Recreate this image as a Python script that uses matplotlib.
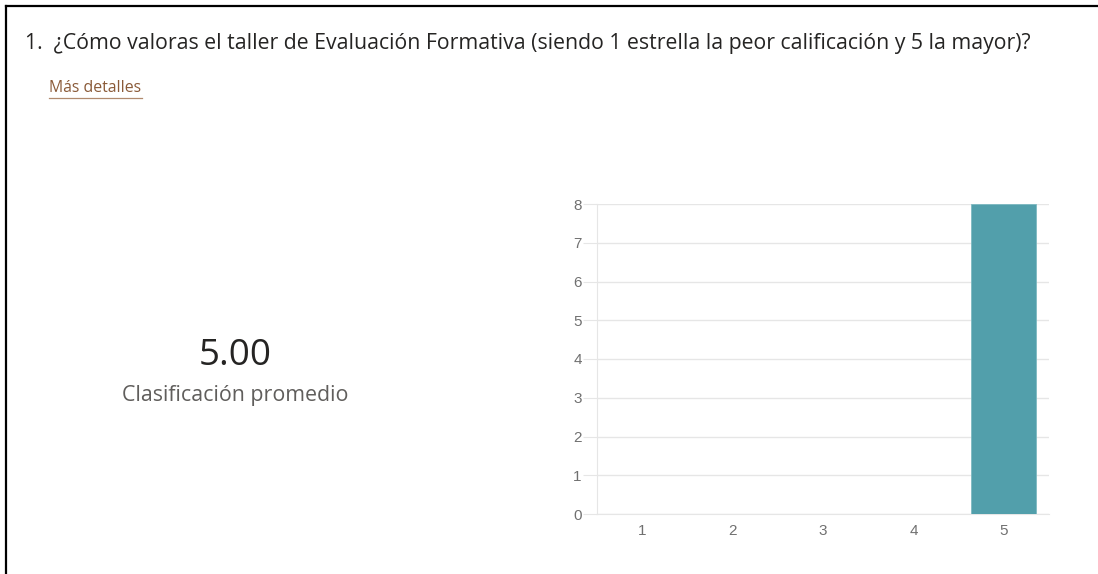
import matplotlib
matplotlib.use("Agg")
import matplotlib.pyplot as plt
from matplotlib.lines import Line2D

categories = ["1", "2", "3", "4", "5"]
counts = [0, 0, 0, 0, 8]
yticks = [0, 1, 2, 3, 4, 5, 6, 7, 8]
average = 5.00
title = "1.  ¿Cómo valoras el taller de Evaluación Formativa (siendo 1 estrella la peor calificación y 5 la mayor)?"
link = "Más detalles"
avg_label = "Clasificación promedio"

W, H = 1098, 574
fig = plt.figure(figsize=(W / 100, H / 100), dpi=100)
fig.patch.set_facecolor("white")

def fx(px):
    return px / W

def fy(py):
    return 1 - py / H

# Frame lines (top and left only)
fig.add_artist(Line2D([fx(6), 1.0], [fy(6), fy(6)], color="black", lw=1.6, transform=fig.transFigure))
fig.add_artist(Line2D([fx(6), fx(6)], [fy(6), 0.0], color="black", lw=1.6, transform=fig.transFigure))

txtfont = ["Open Sans", "DejaVu Sans"]
fig.text(fx(25), fy(43), title, fontsize=15.3, color="#252423", family=txtfont, va="center", ha="left")
fig.text(fx(49), fy(88.5), link, fontsize=11.4, color="#8a5a38", family=txtfont, va="center", ha="left")
fig.add_artist(Line2D([fx(49), fx(142)], [fy(97.5), fy(97.5)], color="#b08a6e", lw=0.9, transform=fig.transFigure))

fig.text(fx(235), fy(356), f"{average:.2f}", fontsize=26.5, color="#252423", family=txtfont, va="center", ha="center")
fig.text(fx(235), fy(395.5), avg_label, fontsize=15.4, color="#605e5c", family=txtfont, va="center", ha="center")

# Bar chart
left, right, top, bottom = 597, 1049, 204, 514
ax = fig.add_axes([fx(left), fy(bottom), fx(right) - fx(left), fy(top) - fy(bottom)])
x = list(range(1, len(categories) + 1))
ax.bar(x, counts, width=0.72, color="#529fab", edgecolor="#7db9c2", linewidth=0.6, zorder=3)
ax.set_xlim(0.5, len(categories) + 0.5)
ax.set_ylim(0, 8)
ax.set_yticks(yticks)
ax.set_xticks(x)
ax.set_xticklabels(categories)
ax.yaxis.grid(True, color="#e6e6e6", lw=1.0, zorder=0)
for s in ["top", "right"]:
    ax.spines[s].set_visible(False)
ax.spines["left"].set_color("#e6e6e6")
ax.spines["bottom"].set_color("#e6e6e6")
ax.tick_params(axis="y", length=10, color="#e6e6e6", labelcolor="#707070", labelsize=11, pad=1)
ax.tick_params(axis="x", length=0, labelcolor="#707070", labelsize=11, pad=7)
for lab in ax.get_xticklabels() + ax.get_yticklabels():
    lab.set_family(["Liberation Sans", "DejaVu Sans"])
ax.set_axisbelow(True)
ax.set_facecolor("white")

fig.savefig("out.png", dpi=100, facecolor="white")
